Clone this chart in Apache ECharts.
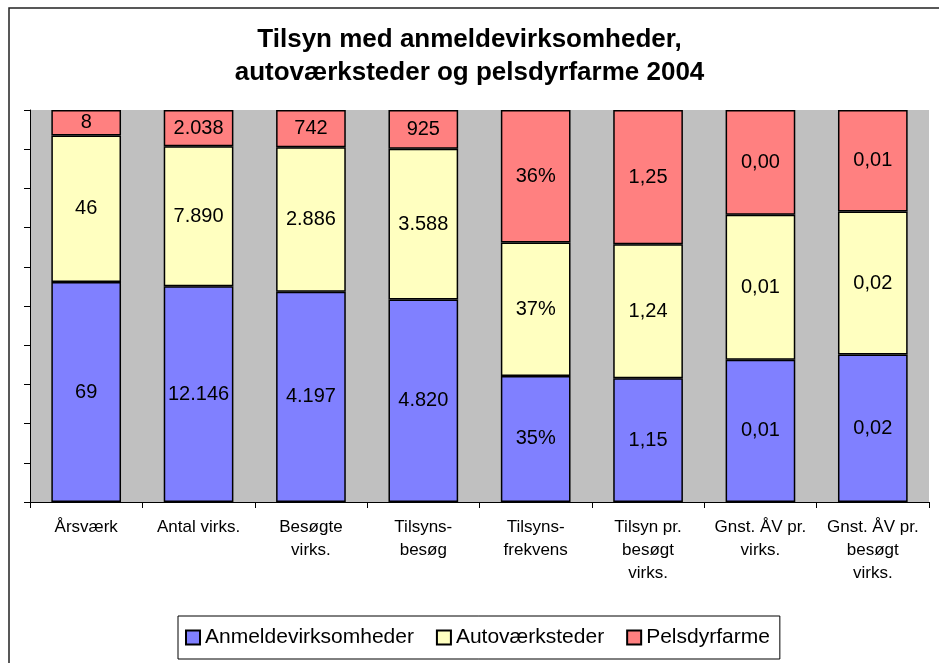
<!DOCTYPE html>
<html>
<head>
<meta charset="utf-8">
<script src="https://cdn.jsdelivr.net/npm/echarts@6/dist/echarts.min.js"></script>
<style>
html,body{margin:0;padding:0;background:#fff;}
#c{width:939px;height:663px;}
</style>
</head>
<body>
<div id="c"></div>
<script>
const categories = ['Årsværk','Antal virks.','Besøgte\nvirks.','Tilsyns-\nbesøg','Tilsyns-\nfrekvens','Tilsyn pr.\nbesøgt\nvirks.','Gnst. ÅV pr.\nvirks.','Gnst. ÅV pr.\nbesøgt\nvirks.'];
const formats = ['int','int','int','int','pct','dec2','dec2','dec2'];
const seriesNames = ['Anmeldevirksomheder','Autoværksteder','Pelsdyrfarme'];
const anmeld = [69, 12146, 4197, 4820, 0.346, 1.148, 0.0057, 0.0164];
const auto   = [46, 7890, 2886, 3588, 0.366, 1.243, 0.0058, 0.0159];
const pels   = [8, 2038, 742, 925, 0.364, 1.247, 0.0042, 0.0113];
const colors = ['#8080FF','#FFFFC0','#FF8080'];

const raw = [anmeld, auto, pels];
const totals = categories.map((c,i)=>anmeld[i]+auto[i]+pels[i]);

function fmt(v, f){
  if (f==='int') return String(Math.round(v)).replace(/\B(?=(\d{3})+(?!\d))/g,'.');
  if (f==='pct') return Math.round(v*100)+'%';
  return v.toFixed(2).replace('.',',');
}

const FONT = 'Liberation Sans, Arial, sans-serif';
const chart = echarts.init(document.getElementById('c'));
chart.setOption({
  animation:false,
  backgroundColor:'#fff',
  title:{
    text:'Tilsyn med anmeldevirksomheder,\nautoværksteder og pelsdyrfarme 2004',
    left:'center', top:18, padding:[5,5,5,35],
    textStyle:{fontFamily:FONT,fontWeight:'bold',fontSize:26,lineHeight:33,color:'#000'}
  },
  graphic:[{type:'rect',shape:{x:9,y:8,width:1000,height:700},style:{fill:'none',stroke:'#222',lineWidth:1.5},silent:true}],
  legend:{
    data:seriesNames,
    left:178, top:616,
    padding:[11,10,11,7],
    borderColor:'#000', borderWidth:1,
    itemWidth:14, itemHeight:14, itemGap:22,
    icon:'rect',
    textStyle:{fontFamily:FONT,fontSize:21,color:'#000'}
  },
  grid:{left:30,right:10,top:110,bottom:161,show:true,backgroundColor:'#C0C0C0',borderWidth:0},
  xAxis:{
    type:'category', data:categories,
    axisLine:{lineStyle:{color:'#000',width:1}},
    axisTick:{show:true,length:6,lineStyle:{color:'#000'}},
    axisLabel:{fontFamily:FONT,fontSize:17,lineHeight:23,color:'#000',margin:14,interval:0}
  },
  yAxis:{
    type:'value', min:0, max:100, interval:10,
    axisLine:{show:true,lineStyle:{color:'#000',width:1}},
    axisTick:{show:true,length:6,lineStyle:{color:'#000'}},
    axisLabel:{show:false},
    splitLine:{show:false}
  },
  series: raw.map((arr,si)=>({
    name:seriesNames[si], type:'bar', stack:'total', barWidth:'62%',
    itemStyle:{color:colors[si],borderColor:'#000',borderWidth:1.5},
    label:{show:true,position:'inside',fontFamily:FONT,fontSize:20,color:'#000',
      formatter:(p)=>fmt(arr[p.dataIndex],formats[p.dataIndex])},
    data: arr.map((v,i)=>v/totals[i]*100)
  }))
});
</script>
</body>
</html>
